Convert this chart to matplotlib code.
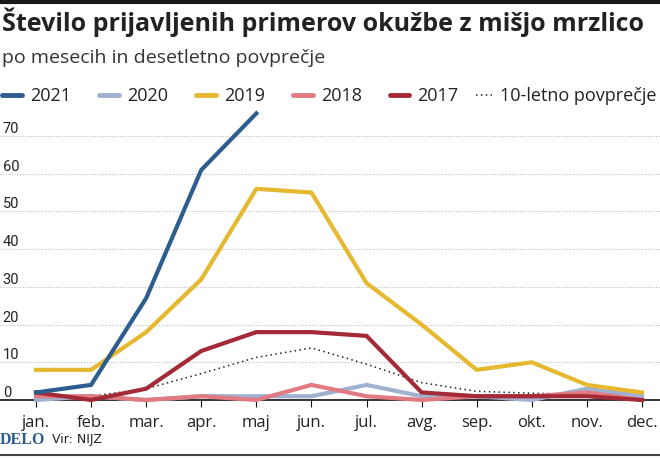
# Število prijavljenih primerov okužbe z mišjo mrzlico
import matplotlib.pyplot as plt
from matplotlib.lines import Line2D

# Podatki
meseci = ['jan.', 'feb.', 'mar.', 'apr.', 'maj', 'jun.', 'jul.', 'avg.', 'sep.', 'okt.', 'nov.', 'dec.']
leto_2021 = [2, 4, 27, 61, 76]
leto_2020 = [0, 1, 0, 1, 1, 1, 4, 1, 1, 0, 3, 1]
leto_2019 = [8, 8, 18, 32, 56, 55, 31, 20, 8, 10, 4, 2]
leto_2018 = [1, 1, 0, 1, 0, 4, 1, 0, 1, 1, 2, 0]
leto_2017 = [2, 0, 3, 13, 18, 18, 17, 2, 1, 1, 1, 0]
povprecje = [1, 1, 3, 7, 11.3, 13.8, 9.5, 4.6, 2.3, 1.8, 1.5, 0.5]
y_ticks = [0, 10, 20, 30, 40, 50, 60, 70]

barve = {'2021': '#2c5d8e', '2020': '#9fb2d2', '2019': '#e6b830',
         '2018': '#e27a82', '2017': '#a32a36'}

plt.rcParams['font.family'] = ['Open Sans', 'DejaVu Sans']

fig = plt.figure(figsize=(6.6, 4.58), dpi=100)
W, H = 660, 458

# Os: jan pri x=36 px, dec pri x=642 px; 0 pri y=400 px, 70 pri y=136 px
ppu_x = (642 - 36) / 11
ppu_y = (400 - 136) / 70
y_top = 78
ax = fig.add_axes([0, (H - 400) / H, 1, y_top * ppu_y / H])
ax.set_xlim(-36 / ppu_x, 11 + 18 / ppu_x)
ax.set_ylim(0, y_top)

x = list(range(12))
ax.plot(x, povprecje, color='#222222', lw=1.1, ls=(0, (1, 2.2)), zorder=2, clip_on=False)
ax.plot(x, leto_2020, color=barve['2020'], lw=3, zorder=3, clip_on=False)
ax.plot(x, leto_2018, color=barve['2018'], lw=3, zorder=3, clip_on=False)
ax.plot(x, leto_2017, color=barve['2017'], lw=3, zorder=4, clip_on=False)
ax.plot(x, leto_2019, color=barve['2019'], lw=3, zorder=5, clip_on=False)
ax.plot(x[:len(leto_2021)], leto_2021, color=barve['2021'], lw=3, zorder=6, clip_on=False)

for s in ['top', 'right', 'left']:
    ax.spines[s].set_visible(False)
ax.spines['bottom'].set_color('#111111')
ax.spines['bottom'].set_linewidth(1.2)
ax.spines['bottom'].set_zorder(2.5)

ax.set_xticks(x)
ax.set_xticklabels(meseci, fontsize=12, color='#222222')
ax.tick_params(axis='x', length=5, width=0.8, color='#111111', pad=6)

ax.set_yticks(y_ticks)
ax.set_yticklabels([str(v) for v in y_ticks], fontsize=10.5, color='#222222',
                   fontfamily=['Liberation Sans Narrow', 'Roboto', 'DejaVu Sans'])
ax.tick_params(axis='y', length=0, pad=-2)
for lbl in ax.get_yticklabels():
    lbl.set_horizontalalignment('left')
    lbl.set_verticalalignment('bottom')
ax.grid(axis='y', color='#bbbbbb', lw=0.8, ls=(0, (1, 1.5)))
ax.set_axisbelow(True)

# Naslov in podnaslov
fig.add_artist(Line2D([0, 1], [1 - 1.5 / H, 1 - 1.5 / H], color='#1a1a1a', lw=3))
fig.text(2 / W, 1 - 22 / H, 'Število prijavljenih primerov okužbe z mišjo mrzlico',
         fontsize=18, fontweight='bold', color='#222222', va='center', ha='left')
fig.text(2 / W, 1 - 58 / H, 'po mesecih in desetletno povprečje',
         fontsize=14, color='#333333', va='center', ha='left')

# Legenda (leta)
handles = [Line2D([], [], color=barve[k], lw=3.5, solid_capstyle='round') for k in ['2021', '2020', '2019', '2018', '2017']]
labels = ['2021', '2020', '2019', '2018', '2017']
leg1 = fig.legend(handles, labels, loc='center left', bbox_to_anchor=(0, 1 - 96 / H),
                  ncol=5, frameon=False, fontsize=13, handlelength=1.1, handletextpad=0.45,
                  columnspacing=1.55, borderaxespad=0, borderpad=0.1, labelcolor='#222222')
# Legenda (povprečje)
h_avg = Line2D([], [], color='#222222', lw=1.1, ls=(0, (1, 2.2)))
fig.legend([h_avg], ['10-letno povprečje'], loc='center left', bbox_to_anchor=(474 / W, 1 - 96 / H),
           frameon=False, fontsize=13, handlelength=0.9, handletextpad=0.45,
           borderaxespad=0, borderpad=0.1, labelcolor='#222222')

# Noga
fig.text(0, 1 - 440 / H, 'DELO', fontsize=11.5, fontweight='bold', color='#2c5d8e',
         fontfamily=['Liberation Serif', 'DejaVu Serif'], va='center', ha='left')
fig.text(52 / W, 1 - 440 / H, 'Vir: NIJZ', fontsize=9, color='#222222',
         fontfamily=['Liberation Sans Narrow', 'DejaVu Sans'], va='center', ha='left')
fig.add_artist(Line2D([0, 1], [1 - 455 / H, 1 - 455 / H], color='#444444', lw=1.5))

fig.savefig('out.png', dpi=100)
